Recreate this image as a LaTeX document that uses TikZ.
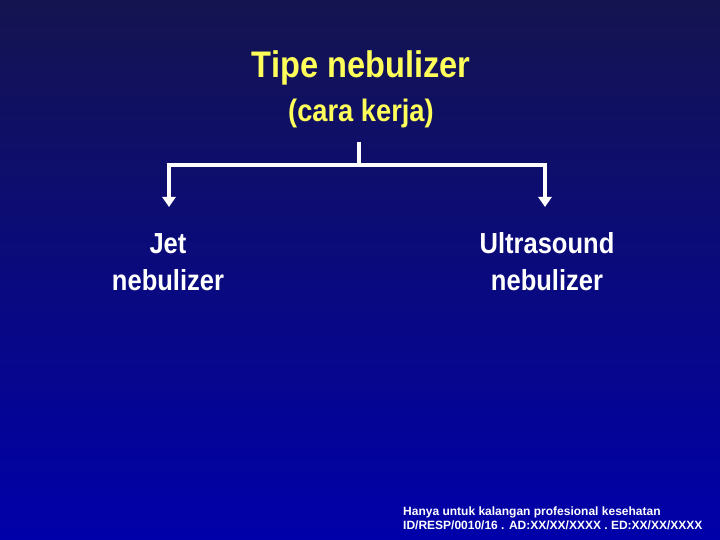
\documentclass[tikz,border=0pt]{standalone}
\usepackage{fontspec}
\setmainfont{Liberation Sans}
\newfontfamily\narrowfont[FakeStretch=0.88]{Liberation Sans}
\usetikzlibrary{arrows.meta}
\definecolor{topblue}{RGB}{20,20,80}
\definecolor{lowblue}{RGB}{0,0,170}
\definecolor{titleyellow}{RGB}{255,255,90}
\tikzset{
  title/.style={text=titleyellow, font=\narrowfont\bfseries, align=center},
  kind/.style={text=white, font=\narrowfont\bfseries\fontsize{29}{37}\selectfont, align=center},
  link/.style={draw=white, line width=4pt},
}
\begin{document}
\begin{tikzpicture}[x=1pt,y=-1pt]
  \shade[top color=topblue, bottom color=lowblue] (0,0) rectangle (720,540);
  \useasboundingbox (0,0) rectangle (720,540);

  \node[title, font=\narrowfont\bfseries\fontsize{37}{42}\selectfont] (head) at (361,68) {Tipe nebulizer};
  \node[title, font=\narrowfont\bfseries\fontsize{31}{34}\selectfont] (sub) at (361,113) {(cara kerja)};

  \coordinate (top) at (359,142);
  \coordinate (mid) at (359,165);
  \coordinate (lft) at (169,165);
  \coordinate (rgt) at (545,165);
  \coordinate (lend) at (169,207);
  \coordinate (rend) at (545,207);

  \node[kind] (jet) at (168,262) {Jet\\nebulizer};
  \node[kind] (ultra) at (547,262) {Ultrasound\\nebulizer};

  \draw[link] (top) -- (mid);
  \draw[link, -{Triangle[width=13pt,length=10pt]}] (mid) -- (lft) -- (lend);
  \draw[link, -{Triangle[width=13pt,length=10pt]}] (mid) -- (rgt) -- (rend);

  \node[text=white, font=\bfseries\fontsize{12}{14}\selectfont, align=left, anchor=north west, inner sep=0pt] (note) at (403,507)
    {Hanya untuk kalangan profesional kesehatan\\ID/RESP/0010/16 . AD:XX/XX/XXXX . ED:XX/XX/XXXX};
\end{tikzpicture}
\end{document}
